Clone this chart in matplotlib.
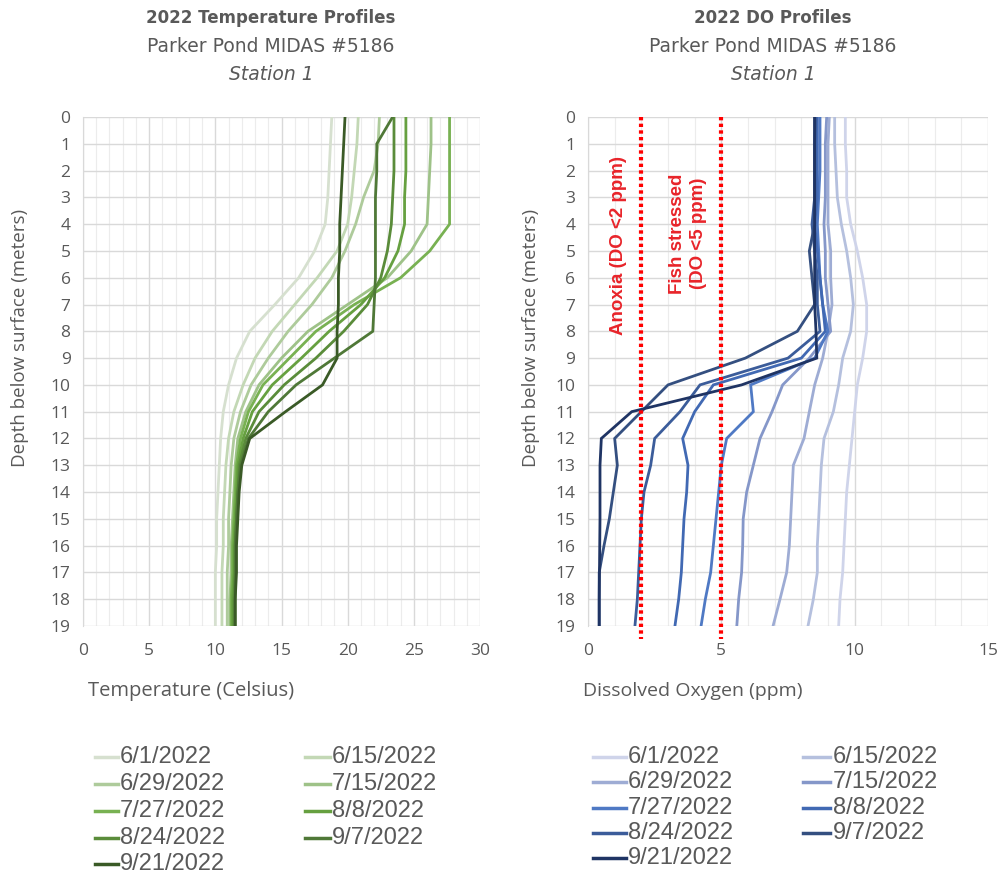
import matplotlib
matplotlib.use("Agg")
import matplotlib.pyplot as plt
from matplotlib.ticker import MultipleLocator
from matplotlib.lines import Line2D

depth = list(range(20))
dates = ["6/1/2022", "6/15/2022", "6/29/2022", "7/15/2022", "7/27/2022",
         "8/8/2022", "8/24/2022", "9/7/2022", "9/21/2022"]

temp_0601 = [18.8, 18.7, 18.6, 18.5, 18.3, 17.5, 16.3, 14.5, 12.6, 11.6, 11.0, 10.6, 10.4, 10.3, 10.2, 10.1, 10.1, 10.0, 10.0, 10.0]
temp_0615 = [20.8, 20.7, 20.5, 20.3, 20.0, 19.2, 17.7, 16.0, 14.3, 13.0, 12.1, 11.4, 11.0, 10.8, 10.7, 10.6, 10.6, 10.5, 10.5, 10.5]
temp_0629 = [22.4, 22.3, 22.0, 21.2, 20.6, 19.8, 18.8, 17.3, 15.5, 14.0, 12.7, 11.9, 11.4, 11.2, 11.1, 11.0, 11.0, 10.9, 10.9, 10.9]
temp_0715 = [26.3, 26.3, 26.2, 26.1, 26.0, 24.8, 23.0, 20.0, 17.0, 15.0, 13.3, 12.3, 11.7, 11.5, 11.4, 11.3, 11.2, 11.2, 11.1, 11.1]
temp_0727 = [27.7, 27.7, 27.7, 27.7, 27.7, 26.2, 24.0, 20.5, 17.6, 15.6, 13.6, 12.5, 11.9, 11.6, 11.5, 11.4, 11.3, 11.3, 11.2, 11.2]
temp_0808 = [24.4, 24.4, 24.4, 24.3, 24.3, 23.8, 22.8, 21.0, 18.6, 16.5, 14.3, 12.8, 12.1, 11.7, 11.6, 11.5, 11.4, 11.4, 11.3, 11.3]
temp_0824 = [23.5, 23.5, 23.5, 23.4, 23.3, 23.0, 22.5, 21.5, 19.7, 17.6, 15.2, 13.3, 12.3, 11.8, 11.7, 11.6, 11.5, 11.5, 11.4, 11.4]
temp_0907 = [23.4, 22.2, 22.2, 22.1, 22.1, 22.1, 22.1, 22.0, 21.9, 19.0, 16.1, 14.0, 12.5, 11.9, 11.7, 11.6, 11.5, 11.5, 11.5, 11.5]
temp_0921 = [19.8, 19.7, 19.6, 19.5, 19.4, 19.4, 19.3, 19.3, 19.2, 19.2, 18.1, 15.3, 12.6, 12.0, 11.8, 11.7, 11.6, 11.6, 11.5, 11.5]

do_0601 = [9.65, 9.65, 9.7, 9.7, 9.85, 10.1, 10.3, 10.45, 10.45, 10.3, 10.1, 10.0, 9.9, 9.8, 9.7, 9.65, 9.6, 9.55, 9.45, 9.4]
do_0615 = [9.25, 9.25, 9.3, 9.35, 9.5, 9.7, 9.85, 9.95, 9.85, 9.55, 9.4, 9.2, 8.85, 8.75, 8.7, 8.65, 8.6, 8.6, 8.45, 8.25]
do_0629 = [9.05, 9.0, 9.0, 9.0, 9.0, 9.1, 9.1, 9.15, 9.0, 8.8, 8.5, 8.3, 8.1, 7.7, 7.65, 7.6, 7.55, 7.45, 7.2, 6.94]
do_0715 = [8.95, 8.9, 8.9, 8.9, 8.85, 8.9, 8.9, 9.0, 9.1, 8.3, 7.3, 6.9, 6.45, 6.2, 5.95, 5.82, 5.8, 5.76, 5.65, 5.58]
do_0727 = [8.7, 8.7, 8.7, 8.65, 8.6, 8.65, 8.7, 8.8, 9.0, 8.5, 6.1, 6.2, 5.2, 5.0, 4.9, 4.8, 4.7, 4.6, 4.4, 4.24]
do_0808 = [8.6, 8.6, 8.6, 8.6, 8.5, 8.6, 8.7, 8.8, 8.9, 8.0, 4.7, 4.0, 3.55, 3.75, 3.7, 3.6, 3.55, 3.5, 3.4, 3.26]
do_0824 = [8.55, 8.5, 8.5, 8.5, 8.4, 8.5, 8.6, 8.6, 8.7, 7.5, 4.2, 3.45, 2.5, 2.35, 2.1, 2.0, 1.95, 1.9, 1.85, 1.76]
do_0907 = [8.5, 8.5, 8.5, 8.5, 8.5, 8.3, 8.4, 8.5, 7.85, 5.9, 3.0, 2.0, 1.0, 1.1, 0.95, 0.8, 0.6, 0.42, 0.42, 0.42]
do_0921 = [8.5, 8.5, 8.5, 8.5, 8.5, 8.5, 8.5, 8.5, 8.55, 8.58, 5.76, 1.64, 0.5, 0.45, 0.45, 0.45, 0.44, 0.43, 0.42, 0.42]

anoxia_do = 2
stress_do = 5

temps = [temp_0601, temp_0615, temp_0629, temp_0715, temp_0727, temp_0808, temp_0824, temp_0907, temp_0921]
dos = [do_0601, do_0615, do_0629, do_0715, do_0727, do_0808, do_0824, do_0907, do_0921]

greens = ["#d6e0cf", "#c3d8b5", "#aecb9b", "#9ec288", "#78b152", "#66a040", "#5a8c3a", "#4f7837", "#3a5a26"]
blues = ["#cfd4ea", "#b5c0de", "#9eacd4", "#8597c9", "#4f79c4", "#4169b3", "#3b5c9a", "#344f80", "#1f3464"]

W, H = 1001, 876
fig = plt.figure(figsize=(W / 100, H / 100), dpi=100)

def ax_rect(l, r, t, b):
    return [l / W, 1 - b / H, (r - l) / W, (b - t) / H]

def fx(x):
    return x / W

def fy(y):
    return 1 - y / H

ax1 = fig.add_axes(ax_rect(83, 480, 117, 626))
ax2 = fig.add_axes(ax_rect(588, 988, 117, 626))

text_c = "#595959"
grid_c = "#d9d9d9"

for ax, xmax, series, cols in ((ax1, 30, temps, greens), (ax2, 15, dos, blues)):
    ax.set_xlim(0, xmax)
    ax.set_ylim(19, 0)
    ax.xaxis.set_major_locator(MultipleLocator(5))
    ax.xaxis.set_minor_locator(MultipleLocator(1))
    ax.yaxis.set_major_locator(MultipleLocator(1))
    ax.grid(which="major", color=grid_c, lw=1.0)
    ax.grid(which="minor", axis="x", color="#ececec", lw=0.8)
    ax.set_axisbelow(True)
    for s in ax.spines.values():
        s.set_visible(False)
    ax.spines["left"].set_visible(True)
    ax.spines["left"].set_color(grid_c)
    ax.tick_params(which="both", length=0)
    ax.tick_params(axis="x", pad=12)
    ax.tick_params(axis="y", pad=9)
    for lab in ax.get_xticklabels() + ax.get_yticklabels():
        lab.set_fontfamily("Open Sans")
        lab.set_fontsize(12.5)
        lab.set_color(text_c)
    for vals, c in zip(series, cols):
        ax.plot(vals, depth, color=c, lw=2.0, solid_joinstyle="miter")

# threshold lines
for xv in (anoxia_do, stress_do):
    ax2.plot([xv, xv], [0, 19.5], color="#ff0000", lw=3.0, ls=(0, (0.8, 0.8)),
             dash_capstyle="butt", clip_on=False, zorder=5)

red_c = "#e8242a"
ax2.text(1.15, 4.8, "Anoxia (DO <2 ppm)", rotation=90, color=red_c,
         fontsize=13.5, fontweight="bold", family="Liberation Sans",
         ha="center", va="center")
ax2.text(3.75, 4.35, "Fish stressed\n(DO <5 ppm)", rotation=90, color=red_c,
         fontsize=13.5, fontweight="bold", family="Liberation Sans",
         ha="center", va="center", linespacing=1.35)

# y labels
for x in (20, 531):
    fig.text(fx(x), fy(338), "Depth below surface (meters)", rotation=90,
             ha="center", va="center", fontsize=13.5, color=text_c,
             family="Open Sans")

fig.text(fx(191), fy(691), "Temperature (Celsius)", ha="center", va="center",
         fontsize=14.5, color=text_c, family="Open Sans")
fig.text(fx(693), fy(691), "Dissolved Oxygen (ppm)", ha="center", va="center",
         fontsize=14, color=text_c, family="Open Sans")

# titles
for cx, t in ((271, "2022 Temperature Profiles"), (773, "2022 DO Profiles")):
    fig.text(fx(cx), fy(18), t, ha="center", va="center", fontsize=12,
             fontweight="bold", color=text_c, family="DejaVu Sans")
    fig.text(fx(cx), fy(46), "Parker Pond MIDAS #5186", ha="center", va="center",
             fontsize=13.5, color=text_c, family="DejaVu Sans")
    fig.text(fx(cx), fy(75), "Station 1", ha="center", va="center",
             fontsize=13.5, style="italic", color=text_c, family="DejaVu Sans")

# legends (rows filled across, two columns)
leg_specs = [
    (greens, (95, 118, 120), (305, 330, 332), [757, 784, 811, 838, 864]),
    (blues, (593, 626, 628), (803, 830, 833), [757, 782, 808, 833, 858]),
]
for cols, c1, c2, rows in leg_specs:
    for i, (lab, c) in enumerate(zip(dates, cols)):
        col = c1 if i % 2 == 0 else c2
        y = rows[i // 2]
        fig.add_artist(Line2D([fx(col[0]), fx(col[1])], [fy(y), fy(y)],
                              color=c, lw=2.5, transform=fig.transFigure))
        fig.text(fx(col[2]), fy(y), lab, ha="left", va="center",
                 fontsize=17, color=text_c, family="Liberation Sans")

fig.savefig("out.png", dpi=100)
